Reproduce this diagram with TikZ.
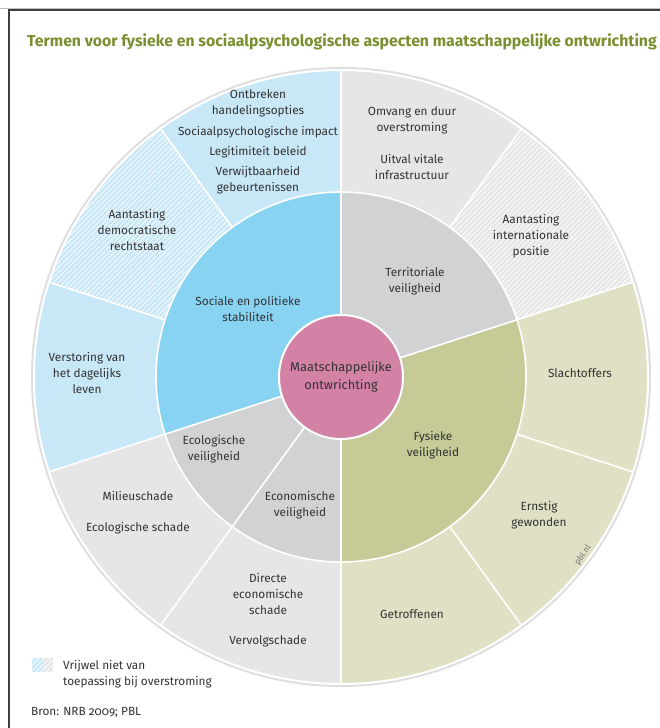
\documentclass[tikz,border=0pt]{standalone}
\usepackage{fontspec}
\setmainfont{Fira Sans}[Numbers=OldStyle]
\usetikzlibrary{patterns.meta}
\definecolor{bluein}{RGB}{137,211,242}
\definecolor{blueout}{RGB}{200,231,247}
\definecolor{grayin}{RGB}{209,210,212}
\definecolor{grayout}{RGB}{230,230,230}
\definecolor{olivein}{RGB}{197,202,150}
\definecolor{oliveout}{RGB}{223,224,196}
\definecolor{centerpink}{RGB}{211,130,166}
\definecolor{txt}{RGB}{51,51,51}
\definecolor{titlegreen}{RGB}{122,143,48}
\newcommand{\sectorfill}[4]{\fill[#1] (C) -- ++(#2:#4) arc[start angle=#2, end angle=#3, radius=#4] -- cycle;}
\newcommand{\sectorhatch}[3]{\fill[pattern={Lines[angle=45,distance=3.6pt,line width=0.8pt]}, pattern color=white] (C) -- ++(#1:#3) arc[start angle=#1, end angle=#2, radius=#3] -- cycle;}
\begin{document}
\begin{tikzpicture}[x=1pt,y=1pt,
  lbl/.style={font=\fontsize{11.8}{16}\selectfont, text=txt, align=center, inner sep=0pt},
  divider/.style={white, line width=1.6pt}]
\useasboundingbox (0,0) rectangle (660,728);
\fill[white] (0,0) rectangle (660,728);
\coordinate (C) at (341,351);
% frame
\draw[black!25, line width=0.8pt] (0,720) -- (660,720);
\draw[black!75, line width=1.2pt] (9,0) -- (9,718) -- (660,718);
% title
\node[anchor=west, inner sep=0pt, text=titlegreen, font=\fontsize{15.8}{18}\selectfont\bfseries] (title) at (27,686) {Termen voor fysieke en sociaalpsychologische aspecten maatschappelijke ontwrichting};
% shadow
\fill[black!13] (C) circle[radius=310];
% outer ring
\sectorfill{blueout}{90}{126}{307}
\sectorfill{blueout}{126}{162}{307}
\sectorfill{blueout}{162}{198}{307}
\sectorfill{grayout}{198}{234}{307}
\sectorfill{grayout}{234}{270}{307}
\sectorfill{oliveout}{270}{306}{307}
\sectorfill{oliveout}{306}{342}{307}
\sectorfill{oliveout}{-18}{18}{307}
\sectorfill{grayout}{18}{54}{307}
\sectorfill{grayout}{54}{90}{307}
\sectorhatch{126}{162}{307}
\sectorhatch{18}{54}{307}
% inner ring
\sectorfill{bluein}{90}{198}{185}
\sectorfill{grayin}{198}{234}{185}
\sectorfill{grayin}{234}{270}{185}
\sectorfill{olivein}{-90}{18}{185}
\sectorfill{grayin}{18}{90}{185}
% dividers
\foreach \a in {18,54,90,126,162,198,234,270,306,342}
  \draw[divider] (C) ++(\a:185) -- ++(\a:122);
\foreach \a in {18,90,198,234,270}
  \draw[divider] (C) ++(\a:62) -- ++(\a:123);
\draw[divider] (C) circle[radius=185];
\draw[white, line width=2pt] (C) circle[radius=307];
\fill[centerpink, draw=white, line width=2pt] (C) circle[radius=62];
% labels
\node[lbl] (l1) at (258,625) {Ontbreken\\handelingsopties};
\node[lbl] (l2) at (258,596) {Sociaalpsychologische impact};
\node[lbl] (l3) at (258,576) {Legitimiteit beleid};
\node[lbl] (l4) at (258,548) {Verwijtbaarheid\\gebeurtenissen};
\node[lbl] (l5) at (412,608) {Omvang en duur\\overstroming};
\node[lbl] (l6) at (412,561) {Uitval vitale\\infrastructuur};
\node[lbl] (l7) at (531,492) {Aantasting\\internationale\\positie};
\node[lbl] (l8) at (415,447) {Territoriale\\veiligheid};
\node[lbl] (l9) at (248,419) {Sociale en politieke\\stabiliteit};
\node[lbl, font=\fontsize{12.8}{18}\selectfont] (center) at (341,351.5) {Maatschappelijke\\ontwrichting};
\node[lbl] (l11) at (137,498) {Aantasting\\democratische\\rechtstaat};
\node[lbl] (l12) at (87,355) {Verstoring van\\het dagelijks\\leven};
\node[lbl] (l13) at (214,279) {Ecologische\\veiligheid};
\node[lbl] (l14) at (300,223) {Economische\\veiligheid};
\node[lbl] (l15) at (433,283) {Fysieke\\veiligheid};
\node[lbl] (l16) at (580,355) {Slachtoffers};
\node[lbl] (l17) at (539,213) {Ernstig\\gewonden};
\node[lbl] (l18) at (412,114) {Getroffenen};
\node[lbl] (l19) at (138,232) {Milieuschade};
\node[lbl] (l20) at (138,200) {Ecologische schade};
\node[lbl] (l21) at (268,134) {Directe\\economische\\schade};
\node[lbl] (l22) at (268,87) {Vervolgschade};
\node[inner sep=0pt, text=black!55, font=\fontsize{8.5}{9}\selectfont, rotate=55] (pbl) at (583,173) {pbl.nl};
% legend
\fill[blueout] (32,56) rectangle (42.5,70);
\fill[grayout] (42.5,56) rectangle (53,70);
\fill[pattern={Lines[angle=45,distance=3.6pt,line width=0.8pt]}, pattern color=white] (32,56) rectangle (53,70);
\node[anchor=west, lbl, align=left] (legend) at (63,54) {Vrijwel niet van\\toepassing bij overstroming};
\node[anchor=west, lbl, align=left] (bron) at (31,16) {Bron: NRB 2009; PBL};
\end{tikzpicture}
\end{document}
